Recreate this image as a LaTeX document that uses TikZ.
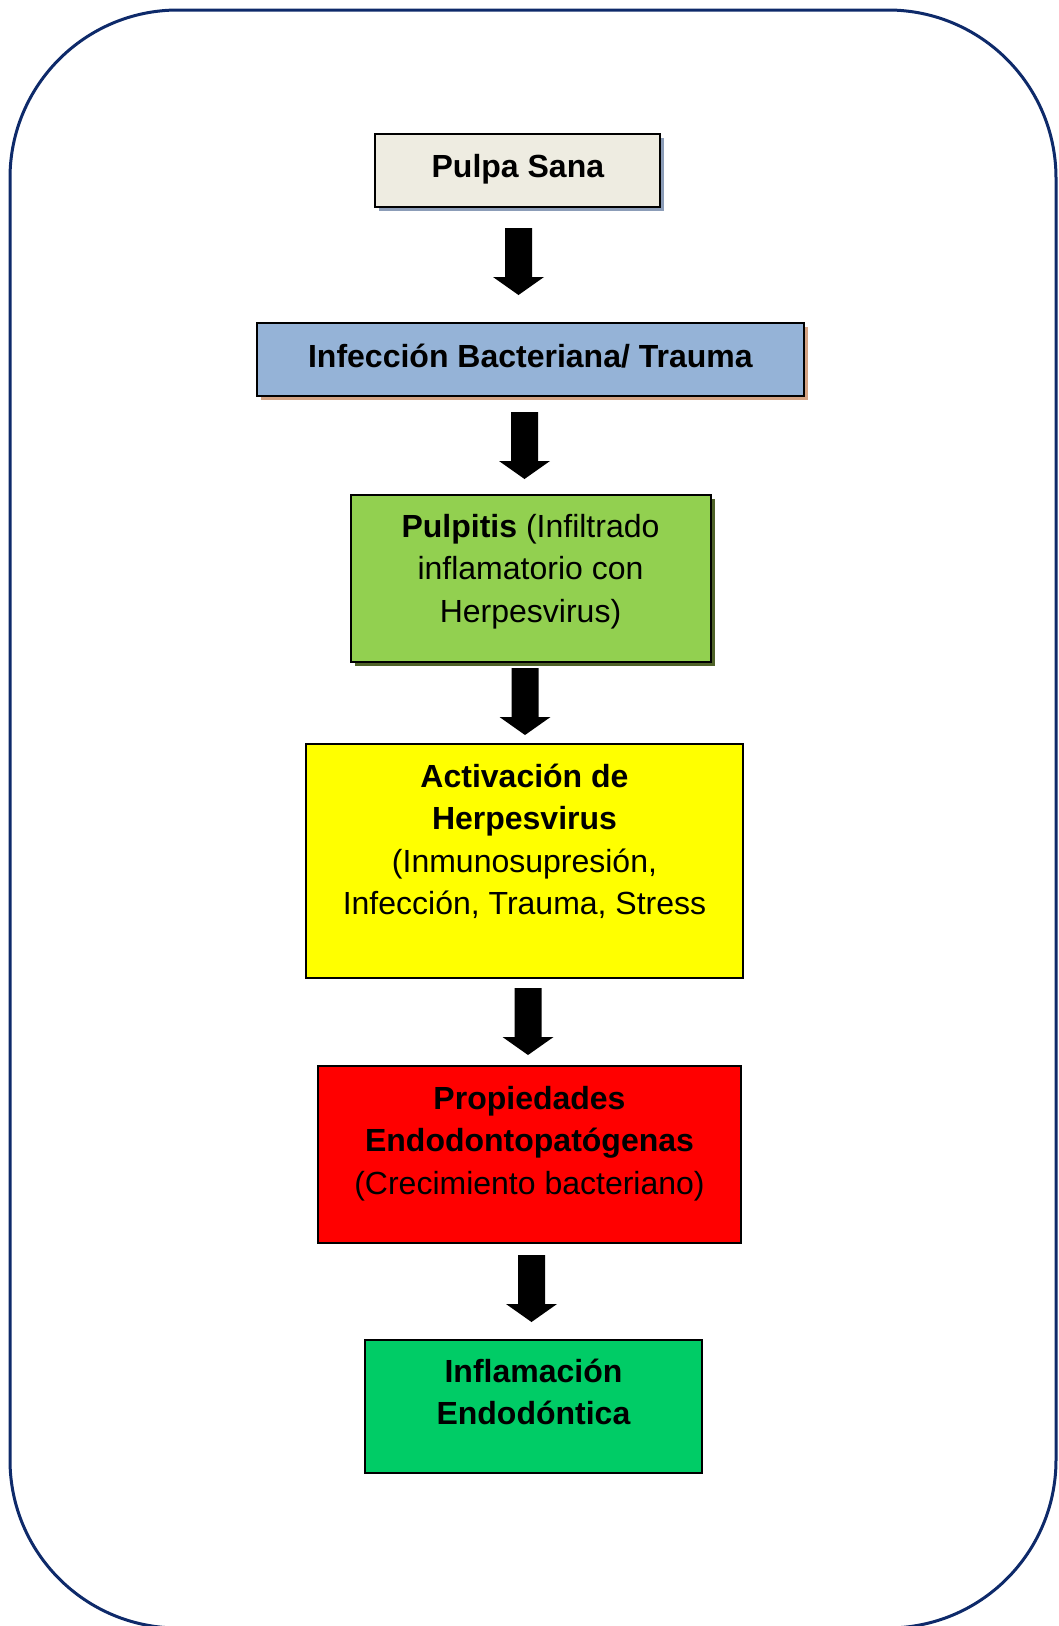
\documentclass[tikz,border=0pt]{standalone}
\usepackage{fontspec}
\setmainfont{Liberation Sans}
\usetikzlibrary{calc}
\definecolor{framecol}{RGB}{14,42,106}
\definecolor{pulpafill}{HTML}{EEECE1}
\definecolor{pulpashadow}{HTML}{8C9DB8}
\definecolor{infecfill}{HTML}{95B3D7}
\definecolor{infecshadow}{HTML}{D4A383}
\definecolor{pulpitisfill}{HTML}{92D050}
\definecolor{pulpitisshadow}{HTML}{4F6228}
\definecolor{activfill}{HTML}{FFFF00}
\definecolor{propfill}{HTML}{FF0000}
\definecolor{inflfill}{HTML}{00CC66}
\newcommand\firstrule{\rule{0pt}{28pt}}
\newcommand\blockarrowat[1]{\fill[black] (#1) ++(-13.5,0) -- ++(27,0) -- ++(0,49) -- ++(12,0) -- ++(-25.5,18) -- ++(-25.5,-18) -- ++(12,0) -- cycle;}
\begin{document}
\begin{tikzpicture}[x=1pt,y=-1pt,
  box/.style={draw=black, line width=2pt, inner sep=0pt, rectangle},
  txt/.style={anchor=north, align=center, inner sep=0pt, font=\fontsize{32pt}{42.5pt}\selectfont}]
\useasboundingbox (0,0) rectangle (1059,1626);
\begin{scope}
\clip (0,0) rectangle (1059,1626);
\draw[framecol, line width=3pt, rounded corners=168pt] (10,10) rectangle (1056,1628);
\end{scope}

% shadows
\fill[pulpashadow] (379,138) rectangle (664,211);
\fill[infecshadow] (261,327) rectangle (808,400);
\fill[pulpitisshadow] (355,499) rectangle (715,666);

% boxes
\node[box, fill=pulpafill, minimum width=285pt, minimum height=73pt] (b1) at (517.5,170.5) {};
\node[box, fill=infecfill, minimum width=547pt, minimum height=73pt] (b2) at (530.5,359.5) {};
\node[box, fill=pulpitisfill, minimum width=360pt, minimum height=167pt] (b3) at (531,578.5) {};
\node[box, fill=activfill, minimum width=437pt, minimum height=234pt] (b4) at (524.5,861) {};
\node[box, fill=propfill, minimum width=423pt, minimum height=177pt] (b5) at (529.5,1154.5) {};
\node[box, fill=inflfill, minimum width=337pt, minimum height=133pt] (b6) at (533.5,1406.5) {};

% texts
\node[txt] (t1) at (518,149) {\firstrule\textbf{Pulpa Sana}};
\node[txt] (t2) at (530.5,339) {\firstrule\textbf{Infección Bacteriana/ Trauma}};
\node[txt] (t3) at (530.5,509) {\firstrule\textbf{Pulpitis} (Infiltrado\\inflamatorio con\\Herpesvirus)};
\node[txt] (t4) at (524.5,759) {\firstrule\textbf{Activación de}\\\textbf{Herpesvirus}\\(Inmunosupresión,\\Infección, Trauma, Stress};
\node[txt] (t5) at (529.5,1081) {\firstrule\textbf{Propiedades}\\\textbf{Endodontopatógenas}\\(Crecimiento bacteriano)};
\node[txt] (t6) at (533.5,1354) {\firstrule\textbf{Inflamación}\\\textbf{Endodóntica}};

% block arrows
\coordinate (a1) at (518.5,228);
\coordinate (a2) at (524.5,412);
\coordinate (a3) at (525,668);
\coordinate (a4) at (528,988);
\coordinate (a5) at (531.5,1255);
\blockarrowat{a1}
\blockarrowat{a2}
\blockarrowat{a3}
\blockarrowat{a4}
\blockarrowat{a5}
\end{tikzpicture}
\end{document}
